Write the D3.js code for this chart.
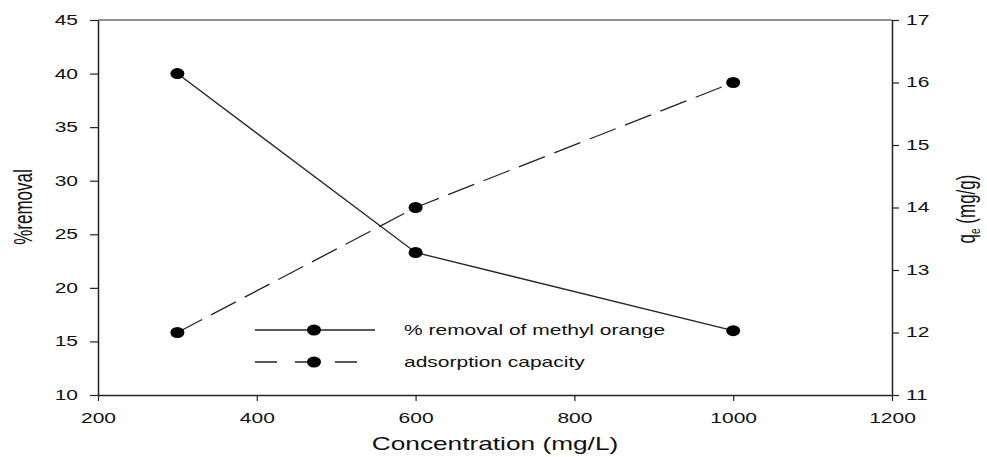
<!DOCTYPE html>
<html>
<head>
<meta charset="utf-8">
<script src="https://cdn.jsdelivr.net/npm/d3@7/dist/d3.min.js"></script>
<style>
  html, body { margin: 0; padding: 0; background: #fff; }
  svg text { font-family: "Liberation Sans", Arial, sans-serif; fill: #111; }
</style>
</head>
<body>
<svg id="chart" width="987" height="457"></svg>
<script>
// Initial dye concentration (mg/L)
const concentrations = [300, 600, 1000];
// Percentage removal of methyl orange (left axis)
const removalPct = [40, 23.3, 16];
// Adsorption capacity q_e in mg/g (right axis)
const adsorptionCapacity = [12, 14, 16];

const xTicks = [200, 400, 600, 800, 1000, 1200];
const yLeftTicks = [10, 15, 20, 25, 30, 35, 40, 45];
const yRightTicks = [11, 12, 13, 14, 15, 16, 17];

const legendLabels = ["% removal of methyl orange", "adsorption capacity"];

const svg = d3.select("#chart");
const m = { left: 98, right: 892, top: 20, bottom: 395 };
const SX = 1.5; // horizontal text stretch used throughout the figure

const x = d3.scaleLinear().domain([200, 1200]).range([m.left, m.right]);
const yL = d3.scaleLinear().domain([10, 45]).range([m.bottom, m.top]);
const yR = d3.scaleLinear().domain([11, 17]).range([m.bottom, m.top]);

// top frame line
svg.append("line")
  .attr("x1", m.left).attr("x2", m.right)
  .attr("y1", m.top).attr("y2", m.top)
  .attr("stroke", "#222").attr("stroke-width", 1.2);

function styleAxis(g) {
  g.select(".domain").attr("stroke", "#222").attr("stroke-width", 1.5);
  g.selectAll(".tick line").attr("stroke", "#222").attr("stroke-width", 1.2);
  g.selectAll(".tick text").attr("font-size", 14).attr("fill", "#111")
    .style("font-family", "'Liberation Sans', Arial, sans-serif");
}

const fmt = d3.format("d");

const gx = svg.append("g").attr("transform", `translate(0,${m.bottom})`)
  .call(d3.axisBottom(x).tickValues(xTicks).tickFormat(fmt).tickSize(6).tickSizeOuter(0).tickPadding(12));
styleAxis(gx);
gx.selectAll(".tick text").attr("transform", `scale(${SX},1)`);

const gl = svg.append("g").attr("transform", `translate(${m.left},0)`)
  .call(d3.axisLeft(yL).tickValues(yLeftTicks).tickFormat(fmt).tickSize(8).tickSizeOuter(0));
styleAxis(gl);
gl.selectAll(".tick text").attr("x", 0).attr("transform", `translate(-20,0) scale(${SX},1)`);

const gr = svg.append("g").attr("transform", `translate(${m.right},0)`)
  .call(d3.axisRight(yR).tickValues(yRightTicks).tickFormat(fmt).tickSize(7).tickSizeOuter(0));
styleAxis(gr);
gr.selectAll(".tick text").attr("x", 0).attr("transform", `translate(14,0) scale(${SX},1)`);

// axis titles
svg.append("text")
  .attr("transform", `translate(${(m.left + m.right) / 2},450) scale(${SX},1)`)
  .attr("text-anchor", "middle").attr("font-size", 17.5)
  .text("Concentration (mg/L)");

svg.append("text")
  .attr("transform", `translate(32,207) scale(${SX},1) rotate(-90)`)
  .attr("text-anchor", "middle").attr("font-size", 17)
  .text("%removal");

const qe = svg.append("text")
  .attr("transform", `translate(975,209) scale(${SX},1) rotate(-90)`)
  .attr("text-anchor", "middle").attr("font-size", 17);
qe.append("tspan").text("q");
qe.append("tspan").attr("font-size", 10).attr("dy", 3).text("e");
qe.append("tspan").attr("dy", -3).text(" (mg/g)");

// series
const removalData = concentrations.map((c, i) => [c, removalPct[i]]);
const capacityData = concentrations.map((c, i) => [c, adsorptionCapacity[i]]);

svg.append("path").datum(removalData)
  .attr("fill", "none").attr("stroke", "#222").attr("stroke-width", 1.3)
  .attr("d", d3.line().x(d => x(d[0])).y(d => yL(d[1])));

svg.append("path").datum(capacityData)
  .attr("fill", "none").attr("stroke", "#222").attr("stroke-width", 1.3)
  .attr("stroke-dasharray", "28,10")
  .attr("d", d3.line().x(d => x(d[0])).y(d => yR(d[1])));

svg.selectAll(".pt-removal").data(removalData).enter().append("ellipse")
  .attr("cx", d => x(d[0])).attr("cy", d => yL(d[1]))
  .attr("rx", 7).attr("ry", 5.5).attr("fill", "#000");

svg.selectAll(".pt-capacity").data(capacityData).enter().append("ellipse")
  .attr("cx", d => x(d[0])).attr("cy", d => yR(d[1]))
  .attr("rx", 7).attr("ry", 5.5).attr("fill", "#000");

// legend
const legend = svg.append("g");
legendLabels.forEach((label, i) => {
  const ly = 330 + i * 32;
  legend.append("line")
    .attr("x1", 255).attr("x2", i === 1 ? 361 : 375).attr("y1", ly).attr("y2", ly)
    .attr("stroke", "#222").attr("stroke-width", 1.3)
    .attr("stroke-dasharray", i === 1 ? "22,18" : null);
  legend.append("ellipse")
    .attr("cx", 314).attr("cy", ly).attr("rx", 7).attr("ry", 5.5).attr("fill", "#000");
  legend.append("text")
    .attr("transform", `translate(404,${ly + 5}) scale(${SX},1)`)
    .attr("font-size", 14).text(label);
});
</script>
</body>
</html>
